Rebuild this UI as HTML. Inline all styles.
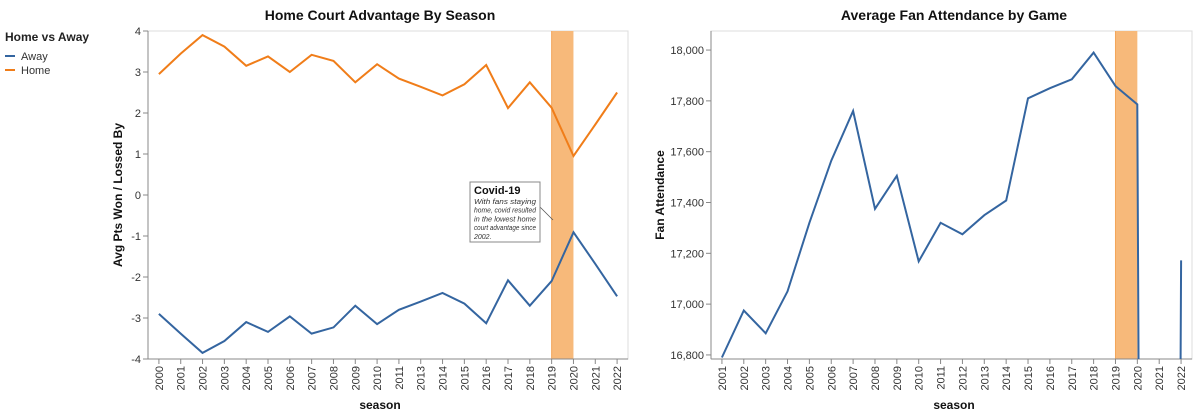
<!DOCTYPE html>
<html><head><meta charset="utf-8"><style>
body{margin:0;background:#fff;width:1200px;height:415px;overflow:hidden;font-family:"Liberation Sans",sans-serif}
svg{display:block}
</style></head><body>
<svg id="svg" width="1200" height="415" xmlns="http://www.w3.org/2000/svg" font-family="Liberation Sans, sans-serif">
<g id="legend">
<text x="5" y="41" font-size="12" font-weight="bold" fill="#222">Home vs Away</text>
<line x1="5" y1="56" x2="15" y2="56" stroke="#3465a0" stroke-width="2"/>
<text x="21" y="60" font-size="11" fill="#333">Away</text>
<line x1="5" y1="70" x2="15" y2="70" stroke="#f07d19" stroke-width="2"/>
<text x="21" y="74" font-size="11" fill="#333">Home</text>
</g>
<g id="left"></g>
<g id="right"></g>
</svg>
<script>
const seasonsL = ["2000","2001","2002","2003","2004","2005","2006","2007","2008","2009","2010","2011","2013","2014","2015","2016","2017","2018","2019","2020","2021","2022"];
const homeVals = [2.95,3.45,3.9,3.62,3.15,3.38,3.0,3.42,3.27,2.75,3.19,2.84,2.64,2.43,2.7,3.17,2.12,2.75,2.13,0.95,1.72,2.5];
const awayVals = [-2.9,-3.38,-3.85,-3.56,-3.1,-3.34,-2.96,-3.38,-3.23,-2.7,-3.15,-2.8,-2.6,-2.39,-2.65,-3.13,-2.08,-2.7,-2.1,-0.91,-1.68,-2.47];
const ticksL = [4,3,2,1,0,-1,-2,-3,-4];
const seasonsR = ["2001","2002","2003","2004","2005","2006","2007","2008","2009","2010","2011","2012","2013","2014","2015","2016","2017","2018","2019","2020","2021","2022"];
const attendVals = [16790,16975,16885,17050,17320,17565,17760,17375,17505,17168,17320,17275,17350,17408,17810,17850,17885,17990,17858,17786,0,17172];
const ticksR = [18000,17800,17600,17400,17200,17000,16800];
const bandStart = "2019", bandEnd = "2020";

const NS="http://www.w3.org/2000/svg";
function mk(parent,tag,attrs,text){const e=document.createElementNS(NS,tag);for(const k in attrs)e.setAttribute(k,attrs[k]);if(text!==undefined)e.textContent=text;parent.appendChild(e);return e;}

function chart(g,cfg){
  const {x0,x1,y0,y1,cats,dmin,dmax,ticks,fmt,title,titleX,ytitle,ytx,clipId}=cfg;
  const step=(x1-x0)/cats.length;
  const xs=c=>x0+step*(cats.indexOf(c)+0.5);
  const ys=v=>y1-(v-dmin)/(dmax-dmin)*(y1-y0);
  const t=mk(g,'text',{x:titleX,y:20,'text-anchor':'middle','font-size':14,'font-weight':'bold',fill:'#111'},title);
  
  
  const fr=mk(g,'rect',{x:x0,y:y0,width:x1-x0,height:y1-y0,fill:'none',stroke:'#ddd'});
  
  
  const defs=mk(g,'defs',{});
  const cp=mk(defs,'clipPath',{id:clipId});mk(cp,'rect',{x:x0,y:y0,width:x1-x0,height:y1-y0});
  const band=mk(g,'rect',{x:xs(bandStart),y:y0,width:xs(bandEnd)-xs(bandStart),height:y1-y0,fill:'#f7b97a'});
  
  
  mk(g,'line',{x1:xs(bandStart),y1:y0,x2:xs(bandStart),y2:y1,stroke:'#f3a55a','stroke-width':1});
  mk(g,'line',{x1:x0,y1:y0,x2:x0,y2:y1,stroke:'#888'});
  ticks.forEach(v=>{const y=ys(v);
    mk(g,'line',{x1:x0-5,y1:y,x2:x0,y2:y,stroke:'#888'});
    const l=mk(g,'text',{x:x0-7,y:y+4,'text-anchor':'end','font-size':11,fill:'#333'},fmt(v));
    
    
  });
  const yt=mk(g,'text',{x:ytx,y:(y0+y1)/2,'text-anchor':'middle','font-size':12,'font-weight':'bold',fill:'#111',transform:`rotate(-90 ${ytx} ${(y0+y1)/2})`},ytitle);
  
  
  mk(g,'line',{x1:x0,y1:y1,x2:x1,y2:y1,stroke:'#888'});
  cats.forEach(c=>{const x=xs(c);
    mk(g,'line',{x1:x,y1:y1,x2:x,y2:y1+5,stroke:'#888'});
    const l=mk(g,'text',{x:x+4,y:y1+7,'text-anchor':'end','font-size':11,fill:'#333',transform:`rotate(-90 ${x+4} ${y1+7})`},c);
    
    
  });
  const xt=mk(g,'text',{x:titleX,y:409,'text-anchor':'middle','font-size':12,'font-weight':'bold',fill:'#111'},'season');
  
  
  return {xs,ys};
}
function line(g,cats,vals,xs,ys,color,name,clipId){
  const d=cats.map((c,i)=>(i?'L':'M')+xs(c).toFixed(1)+','+ys(vals[i]).toFixed(1)).join(' ');
  const p=mk(g,'path',{d,fill:'none',stroke:color,'stroke-width':2,'clip-path':`url(#${clipId})`});
  
  
}
const gl=document.getElementById('left');
const L=chart(gl,{x0:148,x1:628,y0:31,y1:359,cats:seasonsL,dmin:-4,dmax:4,ticks:ticksL,fmt:v=>String(v),title:'Home Court Advantage By Season',titleX:380,ytitle:'Avg Pts Won / Lossed By',ytx:122,clipId:'cl'});
line(gl,seasonsL,homeVals,L.xs,L.ys,'#f07d19','home-line','cl');
line(gl,seasonsL,awayVals,L.xs,L.ys,'#3465a0','away-line','cl');
const ann=mk(gl,'g',{});


mk(ann,'line',{x1:540,y1:207,x2:553,y2:220,stroke:'#555','stroke-width':0.8});
mk(ann,'rect',{x:470,y:182,width:70,height:60,fill:'#fff',stroke:'#888'});
mk(ann,'text',{x:474,y:194,'font-size':11,'font-weight':'bold',fill:'#111'},'Covid-19');
['With fans staying','home, covid resulted','in the lowest home','court advantage since','2002.'].forEach((s,i)=>
  mk(ann,'text',{x:474,y:204+i*8.7,'font-size':7,'font-style':'italic',fill:'#333',textLength:s.length>12?62:0,lengthAdjust:'spacingAndGlyphs'},s));
ann.querySelectorAll('text[textLength="0"]').forEach(e=>e.removeAttribute('textLength'));
const gr=document.getElementById('right');
const R=chart(gr,{x0:711,x1:1192,y0:31,y1:359,cats:seasonsR,dmin:16784,dmax:18075,ticks:ticksR,fmt:v=>v.toLocaleString('en-US'),title:'Average Fan Attendance by Game',titleX:954,ytitle:'Fan Attendance',ytx:664,clipId:'cr'});
line(gr,seasonsR,attendVals,R.xs,R.ys,'#3465a0','attendance-line','cr');
</script>
</body></html>
